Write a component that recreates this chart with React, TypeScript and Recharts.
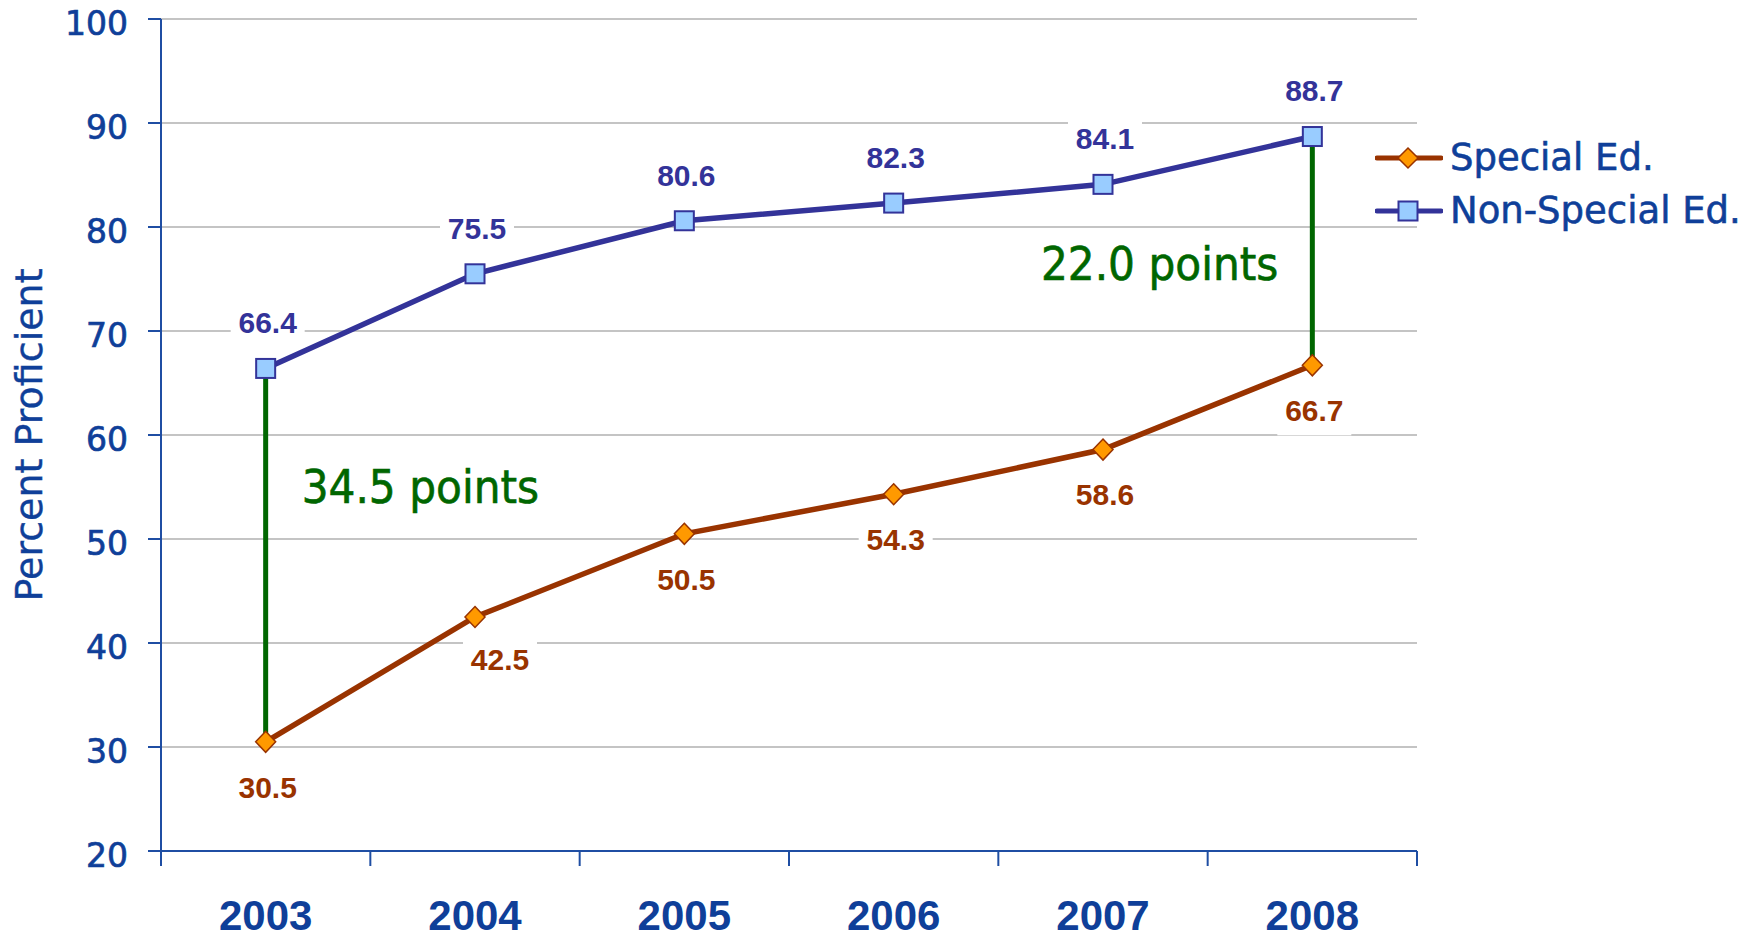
import React from "react";
import { CartesianGrid, Legend, LabelList, Line, LineChart, ReferenceLine, XAxis, YAxis } from "recharts";

const years = ["2003", "2004", "2005", "2006", "2007", "2008"];
const specialEd = [30.5, 42.5, 50.5, 54.3, 58.6, 66.7];
const nonSpecialEd = [66.4, 75.5, 80.6, 82.3, 84.1, 88.7];
const yTicks = [20, 30, 40, 50, 60, 70, 80, 90, 100];
const gapYears = ["2003", "2008"];
const gapLabels = ["34.5 points", "22.0 points"];

const data = years.map((year, i) => ({ year, special: specialEd[i], nonSpecial: nonSpecialEd[i] }));

const TEXT = "#0f3f99";
const AXIS = "#1f4ea3";
const GRID = "#c4c4c4";
const BROWN = "#993300";
const ORANGE = "#ff9900";
const NAVY = "#333399";
const LIGHT_BLUE = "#99ccff";
const GREEN = "#006600";
const SANS = "'DejaVu Sans', Verdana, sans-serif";
const CONDENSED = "'DejaVu Sans Condensed', 'DejaVu Sans', sans-serif";
const ARIAL = "'Liberation Sans', Arial, sans-serif";

const SquareDot = (props: any) => {
  const { cx, cy } = props;
  if (cx == null || cy == null) return null;
  return <rect x={cx - 9.5} y={cy - 9.5} width={19} height={19} fill={LIGHT_BLUE} stroke={NAVY} strokeWidth={2} />;
};

const DiamondDot = (props: any) => {
  const { cx, cy } = props;
  if (cx == null || cy == null) return null;
  return (
    <polygon
      points={`${cx},${cy - 10.5} ${cx + 10},${cy} ${cx},${cy + 10.5} ${cx - 10},${cy}`}
      fill={ORANGE}
      stroke={BROWN}
      strokeWidth={1.5}
    />
  );
};

// the 2004 special ed label sits off to the right of its point in the original
const nudge = (above: boolean, index: number) => (!above && index === 1 ? { dx: 25, dy: -3 } : { dx: 2, dy: 0 });

function valueLabel(color: string, above: boolean) {
  return (props: any) => {
    const { x, y, value, index } = props;
    if (x == null || y == null) return null;
    const n = nudge(above, index);
    const cx = x + n.dx;
    const cy = (above ? y - 46 : y + 45) + n.dy;
    return (
      <g>
        <rect x={cx - 37} y={cy - 25} width={74} height={50} fill="#fff" />
        <text
          x={cx}
          y={cy}
          dy="0.36em"
          textAnchor="middle"
          fill={color}
          fontFamily={ARIAL}
          fontWeight="bold"
          fontSize={30}
        >
          {Number(value).toFixed(1)}
        </text>
      </g>
    );
  };
}

const YTick = (props: any) => {
  const { x, y, payload } = props;
  return (
    <text
      x={x}
      y={y + 4}
      dy="0.36em"
      textAnchor="end"
      fill={TEXT}
      stroke={TEXT}
      strokeWidth={0.7}
      fontFamily={SANS}
      fontSize={33}
    >
      {payload.value}
    </text>
  );
};

const X_TICK_GAP = 49;

const XTick = (props: any) => {
  const { x, y, payload, index, visibleTicksCount, width } = props;
  const half = payload.offset || width / visibleTicksCount / 2;
  const axisY = y - X_TICK_GAP;
  const isLast = index === visibleTicksCount - 1;
  return (
    <g>
      <line x1={x - half} y1={axisY} x2={x - half} y2={axisY + 15} stroke={AXIS} strokeWidth={2} />
      {isLast && <line x1={x + half} y1={axisY} x2={x + half} y2={axisY + 15} stroke={AXIS} strokeWidth={2} />}
      <text x={x} y={y} dy="0.71em" textAnchor="middle" fill={TEXT} fontFamily={ARIAL} fontWeight="bold" fontSize={42}>
        {payload.value}
      </text>
    </g>
  );
};

const YLabel = (props: any) => {
  const vb = props.viewBox || { x: 0, y: 19, width: 161, height: 832 };
  const x = vb.x + 42;
  const y = vb.y + vb.height / 2;
  return (
    <text
      x={x}
      y={y}
      transform={`rotate(-90 ${x} ${y})`}
      textAnchor="middle"
      fill={TEXT}
      stroke={TEXT}
      strokeWidth={0.4}
      fontFamily={SANS}
      fontSize={38}
    >
      Percent Proficient
    </text>
  );
};

function gapLabel(text: string, first: boolean) {
  return (props: any) => {
    const vb = props.viewBox;
    if (!vb) return null;
    return (
      <text
        x={first ? vb.x + 36 : vb.x - 34}
        y={first ? vb.y + 135 : vb.y + 143}
        textAnchor={first ? "start" : "end"}
        fill={GREEN}
        stroke={GREEN}
        strokeWidth={0.6}
        fontFamily={CONDENSED}
        fontStretch="condensed"
        fontSize={47}
      >
        {text}
      </text>
    );
  };
}

const legendItems = [
  { name: "Special Ed.", color: BROWN, diamond: true },
  { name: "Non-Special Ed.", color: NAVY, diamond: false },
];

const LegendBox = () => (
  <div style={{ fontFamily: SANS, fontSize: 37, color: TEXT, WebkitTextStroke: "0.6px " + TEXT }}>
    {legendItems.map((item) => (
      <div key={item.name} style={{ display: "flex", alignItems: "center", height: 53, lineHeight: "53px", whiteSpace: "nowrap" }}>
        <svg width={68} height={26} style={{ marginRight: 7 }}>
          <line x1={2} y1={13} x2={66} y2={13} stroke={item.color} strokeWidth={5} strokeLinecap="round" />
          {item.diamond ? (
            <polygon points="33,3 43,13 33,23 23,13" fill={ORANGE} stroke={BROWN} strokeWidth={1.5} />
          ) : (
            <rect x={23.5} y={3.5} width={19} height={19} fill={LIGHT_BLUE} stroke={NAVY} strokeWidth={2} />
          )}
        </svg>
        <span>{item.name}</span>
      </div>
    ))}
  </div>
);

export default function App() {
  return (
    <div style={{ width: 1760, height: 939, background: "#fff" }}>
      <style>{`body{margin:0}`}</style>
      <LineChart width={1760} height={939} data={data} margin={{ top: 19, right: 343, left: 0, bottom: 0 }}>
        <CartesianGrid vertical={false} stroke={GRID} strokeWidth={2} yAxisId="val" xAxisId="cat" />
        <XAxis
          xAxisId="cat"
          dataKey="year"
          scale="band"
          height={88}
          axisLine={{ stroke: AXIS, strokeWidth: 2 }}
          tickLine={false}
          tickSize={0}
          tickMargin={X_TICK_GAP}
          tick={<XTick />}
          interval={0}
        />
        <YAxis
          yAxisId="val"
          width={161}
          domain={[20, 100]}
          ticks={yTicks}
          interval={0}
          tickSize={13}
          tickMargin={20}
          tick={<YTick />}
          tickLine={{ stroke: AXIS, strokeWidth: 2 }}
          axisLine={{ stroke: AXIS, strokeWidth: 2 }}
          label={<YLabel />}
        />
        <Legend
          layout="vertical"
          align="center"
          verticalAlign="middle"
          content={<LegendBox />}
          wrapperStyle={{ left: 1375, top: 131, width: 385 }}
        />
        {gapYears.map((yr, i) => {
          const idx = years.indexOf(yr);
          return (
            <ReferenceLine
              key={yr}
              xAxisId="cat"
              yAxisId="val"
              segment={[
                { x: yr, y: specialEd[idx] },
                { x: yr, y: nonSpecialEd[idx] },
              ]}
              stroke={GREEN}
              strokeWidth={5}
              label={gapLabel(gapLabels[i], i === 0)}
            />
          );
        })}
        <Line
          xAxisId="cat"
          yAxisId="val"
          dataKey="special"
          name="Special Ed."
          stroke={BROWN}
          strokeWidth={5.5}
          dot={<DiamondDot />}
          activeDot={false}
          isAnimationActive={false}
        >
          <LabelList dataKey="special" content={valueLabel(BROWN, false)} />
        </Line>
        <Line
          xAxisId="cat"
          yAxisId="val"
          dataKey="nonSpecial"
          name="Non-Special Ed."
          stroke={NAVY}
          strokeWidth={5.5}
          dot={<SquareDot />}
          activeDot={false}
          isAnimationActive={false}
        >
          <LabelList dataKey="nonSpecial" content={valueLabel(NAVY, true)} />
        </Line>
      </LineChart>
    </div>
  );
}
